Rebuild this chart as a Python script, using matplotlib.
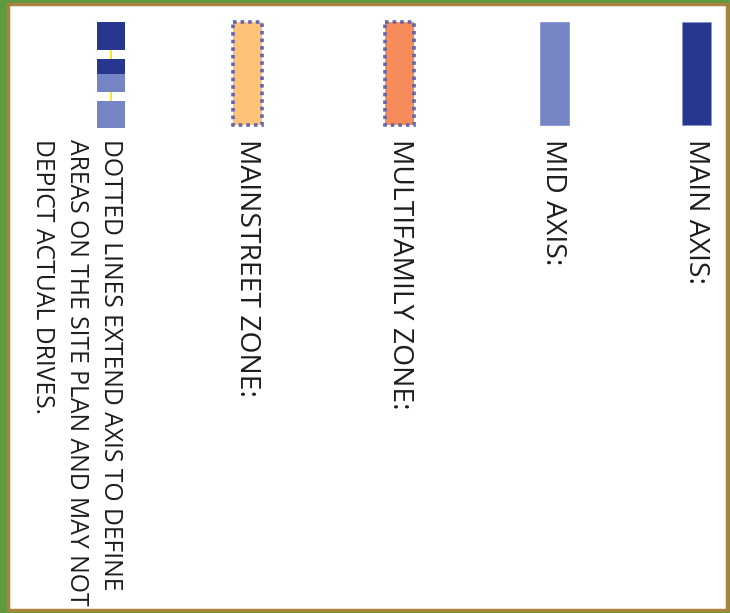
import matplotlib
matplotlib.use("Agg")
import matplotlib.pyplot as plt
from matplotlib.patches import Rectangle

# Legend content
labels = ["MAIN AXIS:", "MID AXIS:", "MULTIFAMILY ZONE:", "MAINSTREET ZONE:"]
note_lines = ["DOTTED LINES EXTEND AXIS TO DEFINE",
              "AREAS ON THE SITE PLAN AND MAY NOT",
              "DEPICT ACTUAL DRIVES."]
fills = ["#27368f", "#7584c4", "#f78b5a", "#fec27a"]
dotted = [False, False, True, True]

W, H = 730, 613
fig = plt.figure(figsize=(W / 100, H / 100), dpi=100)
fig.patch.set_facecolor("#5e9a3e")
ax = fig.add_axes([0, 0, 1, 1])
ax.set_xlim(0, W)
ax.set_ylim(H, 0)
ax.axis("off")

# frame
ax.add_patch(Rectangle((7.5, 3.5), 719, 606, facecolor="white", edgecolor="#a8843c", lw=2.5))

swatch_x = [682, 540, 385, 233]
sw_w, sw_top, sw_h = 29, 22, 103
text_x = [696, 553, 400, 247]
note_x = [110, 76, 42]
FS_LAB = 20.3
FS = 17.8
FAM = ["Open Sans", "DejaVu Sans"]

for i in range(4):
    if dotted[i]:
        ax.add_patch(Rectangle((swatch_x[i], sw_top), sw_w, sw_h, facecolor=fills[i],
                               edgecolor="#6466a8", lw=2.6, linestyle=(0, (1, 1.1))))
    else:
        ax.add_patch(Rectangle((swatch_x[i], sw_top), sw_w, sw_h, facecolor=fills[i],
                               edgecolor="#8a96d0", lw=0.6))

# dotted-line symbol: axis segments with thin yellow connectors
main_c, mid_c = fills[0], fills[1]
sx, sw = 97, 28
ax.plot([sx + sw / 2, sx + sw / 2], [50, 101], color="#f5e400", lw=1.2, zorder=1)
ax.add_patch(Rectangle((sx, 22), sw, 28, facecolor=main_c, edgecolor="none", zorder=2))
ax.add_patch(Rectangle((sx, 59), sw, 15, facecolor=main_c, edgecolor="none", zorder=2))
ax.add_patch(Rectangle((sx, 74), sw, 18, facecolor=mid_c, edgecolor="none", zorder=2))
ax.add_patch(Rectangle((sx, 101), sw, 27, facecolor=mid_c, edgecolor="none", zorder=2))

for i, lab in enumerate(labels):
    ax.text(text_x[i], 139, lab, rotation=270, rotation_mode="anchor",
            ha="left", va="center", fontsize=FS_LAB, family=FAM, color="#1e1e1e")

for x, line in zip(note_x, note_lines):
    ax.text(x, 139, line, rotation=270, rotation_mode="anchor",
            ha="left", va="center", fontsize=FS, family=FAM, color="#1e1e1e")

fig.savefig("out.png", dpi=100, facecolor=fig.get_facecolor())
